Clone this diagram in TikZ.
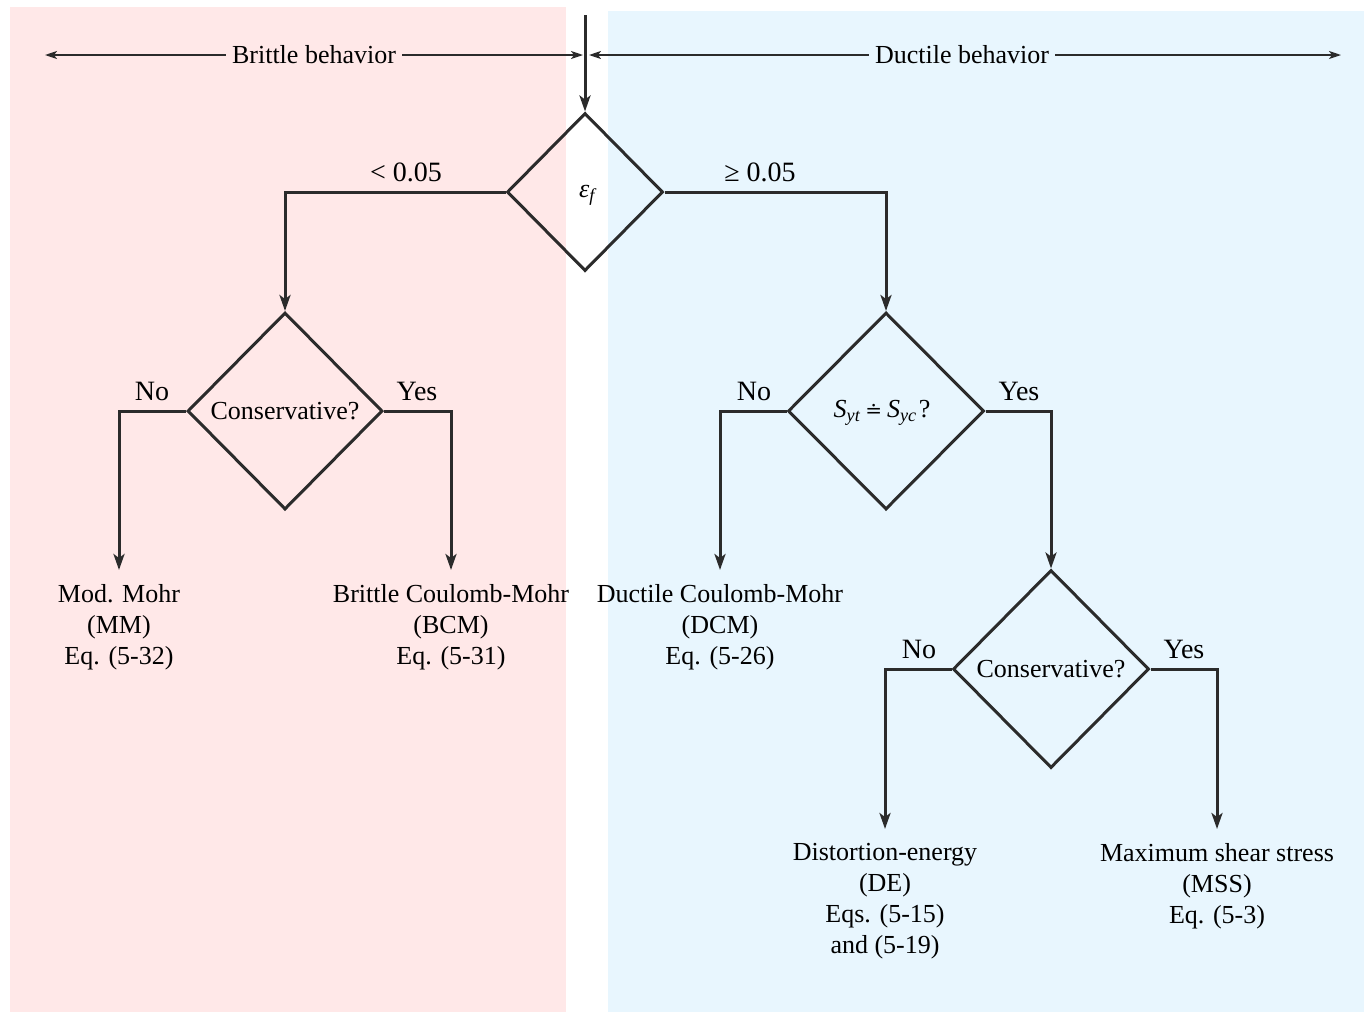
\documentclass[tikz,border=0pt]{standalone}
\usepackage{fontspec}
\setmainfont{Liberation Serif}
\newfontfamily\symfont{DejaVu Serif}
\usetikzlibrary{shapes.geometric,arrows.meta}
\definecolor{pinkbg}{RGB}{255,232,232}
\definecolor{bluebg}{RGB}{232,246,254}
\definecolor{linec}{RGB}{43,43,43}
\begin{document}
\begin{tikzpicture}[x=1pt,y=-1pt,
  mainline/.style={draw=linec, line width=3pt},
  arr/.style={mainline, -{Stealth[length=16pt,width=11pt,inset=4pt]}},
  harr/.style={draw=linec, line width=1.8pt, -{Stealth[length=12pt,width=8pt,inset=3pt]}},
  dec/.style={diamond, draw=linec, line width=3pt, inner sep=0pt, aspect=1, font=\fontsize{26}{31}\selectfont},
  res/.style={align=center, inner sep=0pt, anchor=north, font=\fontsize{26}{31}\selectfont},
  lab/.style={inner sep=0pt, anchor=base, font=\fontsize{28}{31}\selectfont},
  hlab/.style={inner sep=0pt, font=\fontsize{26}{31}\selectfont},
]
\useasboundingbox (0,0) rectangle (1364,1013);
\fill[pinkbg] (10,7) rectangle (566,1012);
\fill[bluebg] (608,11) rectangle (1364,1012);

% header
\node[hlab] (bt) at (314,55) {Brittle behavior};
\node[hlab] (dt) at (962,55) {Ductile behavior};
\coordinate (bl) at (45,55);
\coordinate (br) at (583,55);
\coordinate (dl) at (589,55);
\coordinate (dr) at (1341,55);
\draw[harr] ([xshift=-6pt]bt.west) -- (bl);
\draw[harr] ([xshift=6pt]bt.east) -- (br);
\draw[harr] ([xshift=-6pt]dt.west) -- (dl);
\draw[harr] ([xshift=6pt]dt.east) -- (dr);

% decisions
\node[dec, minimum width=156pt, minimum height=158pt] (eps) at (585,192) {};
\node[inner sep=0pt, font=\fontsize{26}{31}\selectfont] (epst) at (587,195) {\itshape ε\textsubscript{f}};
\node[dec, minimum width=195pt, minimum height=197pt] (c1) at (285,411) {Conservative?};
\node[dec, minimum width=196pt, minimum height=197pt] (syt) at (886,411) {};
\node[inner sep=0pt, font=\fontsize{26}{31}\selectfont] (sytt) at (882,413) {{\itshape S\textsubscript{yt}}\hspace{5pt}{\symfont\fontsize{20}{24}\selectfont ≐}\hspace{5pt}{\itshape S\textsubscript{yc}}\hspace{2pt}?};
\node[dec, minimum width=196pt, minimum height=198pt] (c2) at (1051,669) {Conservative?};

\coordinate (top) at (585,15);
\draw[arr] (top) -- (eps.north);

% results
\node[res] (mm) at (119,584) {Mod. Mohr\\(MM)\\Eq. (5-32)};
\node[res] (bcm) at (451,584) {Brittle Coulomb-Mohr\\(BCM)\\Eq. (5-31)};
\node[res] (dcm) at (720,584) {Ductile Coulomb-Mohr\\(DCM)\\Eq. (5-26)};
\node[res] (de) at (885,843) {Distortion-energy\\(DE)\\Eqs. (5-15)\\and (5-19)};
\node[res] (mss) at (1217,843) {Maximum shear stress\\(MSS)\\Eq. (5-3)};

% connectors
\draw[arr] (eps.west) -| (c1.north);
\draw[arr] (eps.east) -| (syt.north);
\draw[arr] (c1.west) -| ([yshift=14pt]mm.north);
\draw[arr] (c1.east) -| ([yshift=14pt]bcm.north);
\draw[arr] (syt.west) -| ([yshift=14pt]dcm.north);
\draw[arr] (syt.east) -| (c2.north);
\draw[arr] (c2.west) -| ([yshift=14pt]de.north);
\draw[arr] (c2.east) -| ([yshift=14pt]mss.north);

% branch labels
\node[lab] (l1) at (406,181) {< 0.05};
\node[lab] (l2) at (760,181) {≥ 0.05};
\node[lab] (n1) at (152,400) {No};
\node[lab] (y1) at (417,400) {Yes};
\node[lab] (n2) at (754,400) {No};
\node[lab] (y2) at (1019,400) {Yes};
\node[lab] (n3) at (919,658) {No};
\node[lab] (y3) at (1184,658) {Yes};
\end{tikzpicture}
\end{document}
